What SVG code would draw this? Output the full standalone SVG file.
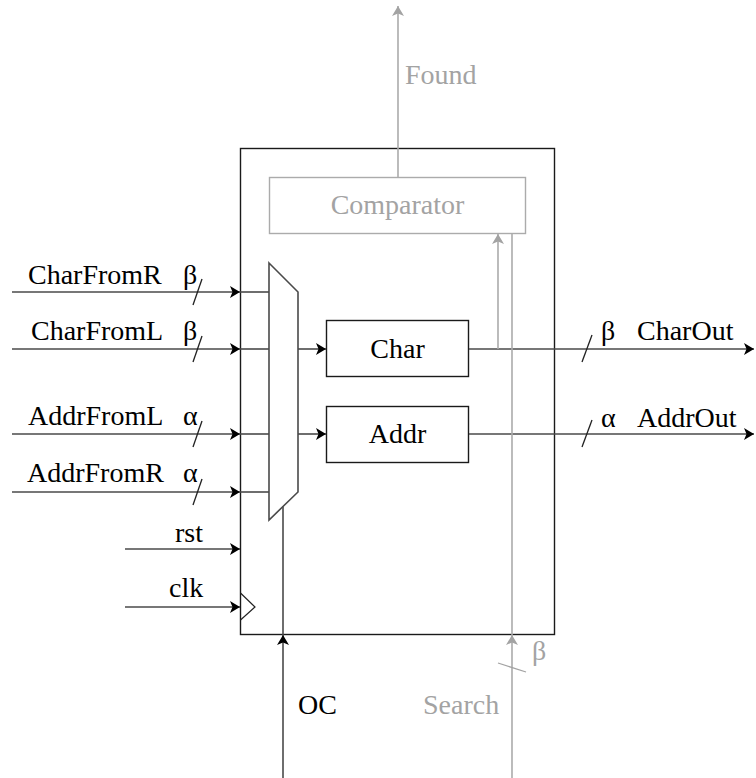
<svg xmlns="http://www.w3.org/2000/svg" width="756" height="778" viewBox="0 0 756 778">
  <style>
    text { font-family: "Liberation Serif", "Times New Roman", serif; font-size: 28px; fill: #000; }
    .dim { fill: #a3a3a3; }
    .mid { text-anchor: middle; }
    .wire { stroke: #4a4a4a; stroke-width: 1.6; fill: none; }
    .gwire { stroke: #ababab; stroke-width: 1.6; fill: none; }
    .box { stroke: #1a1a1a; stroke-width: 1.4; fill: #fff; }
    .gbox { stroke: #ababab; stroke-width: 1.4; fill: #fff; }
    .tick { stroke: #222; stroke-width: 1.3; }
    .gtick { stroke: #a3a3a3; stroke-width: 1.3; }
  </style>
  <defs>
    <marker id="arrow" viewBox="0 0 11 12" refX="10" refY="6" markerWidth="11" markerHeight="12" markerUnits="userSpaceOnUse" orient="auto">
      <path d="M0,0 L10,6 L0,12 L2.5,6 Z" fill="#000"/>
    </marker>
    <marker id="garrow" viewBox="0 0 11 12" refX="10" refY="6" markerWidth="11" markerHeight="12" markerUnits="userSpaceOnUse" orient="auto">
      <path d="M0,0 L10,6 L0,12 L2.5,6 Z" fill="#a3a3a3"/>
    </marker>
  </defs>

  <!-- outer register block -->
  <g id="block">
    <rect class="box" x="240.5" y="148.5" width="314" height="486"/>
    <!-- clock input -->
    <path d="M240.5,593 L255,607 L240.5,620" fill="none" stroke="#222" stroke-width="1.2"/>
  </g>

  <g id="comparator">
    <rect class="gbox" x="269.5" y="177.5" width="256" height="56"/>
    <text class="dim mid" x="397.5" y="214">Comparator</text>
  </g>

  <g id="mux">
    <path d="M269,263 L298,292 L298,492 L269,520 Z" fill="#fff" stroke="#4a4a4a" stroke-width="1.6"/>
  </g>

  <g id="char">
    <rect class="box" x="326.5" y="320.5" width="142" height="56"/>
    <text class="mid" x="397.5" y="358">Char</text>
  </g>

  <g id="addr">
    <rect class="box" x="326.5" y="406.5" width="142" height="56"/>
    <text class="mid" x="397.5" y="443">Addr</text>
  </g>

  <g id="connectors">
    <!-- inputs into the mux, arrowheads on the block edge -->
    <line class="wire" x1="12" y1="292" x2="240" y2="292" marker-end="url(#arrow)"/>
    <line class="wire" x1="240" y1="292" x2="269" y2="292"/>
    <line class="wire" x1="12" y1="349" x2="240" y2="349" marker-end="url(#arrow)"/>
    <line class="wire" x1="240" y1="349" x2="269" y2="349"/>
    <line class="wire" x1="12" y1="434" x2="240" y2="434" marker-end="url(#arrow)"/>
    <line class="wire" x1="240" y1="434" x2="269" y2="434"/>
    <line class="wire" x1="12" y1="492" x2="240" y2="492" marker-end="url(#arrow)"/>
    <line class="wire" x1="240" y1="492" x2="269" y2="492"/>

    <!-- bus width ticks on inputs -->
    <line class="tick" x1="193" y1="305" x2="202" y2="279"/>
    <line class="tick" x1="193" y1="362" x2="202" y2="336"/>
    <line class="tick" x1="193" y1="447" x2="202" y2="421"/>
    <line class="tick" x1="193" y1="505" x2="202" y2="479"/>

    <!-- rst / clk -->
    <line class="wire" x1="125" y1="549" x2="240" y2="549" marker-end="url(#arrow)"/>
    <line class="wire" x1="125" y1="607" x2="240" y2="607" marker-end="url(#arrow)"/>

    <!-- mux to registers -->
    <line class="wire" x1="298" y1="349" x2="326" y2="349" marker-end="url(#arrow)"/>
    <line class="wire" x1="298" y1="434" x2="326" y2="434" marker-end="url(#arrow)"/>

    <!-- register outputs -->
    <line class="wire" x1="469" y1="349" x2="754" y2="349" marker-end="url(#arrow)"/>
    <line class="wire" x1="469" y1="434" x2="754" y2="434" marker-end="url(#arrow)"/>
    <line class="tick" x1="582" y1="362" x2="592" y2="335"/>
    <line class="tick" x1="582" y1="447" x2="592" y2="420"/>

    <!-- OC select into mux -->
    <line class="wire" x1="283" y1="778" x2="283" y2="635" marker-end="url(#arrow)"/>
    <line class="wire" x1="283" y1="635" x2="283" y2="506.5"/>

    <!-- comparator path -->
    <line class="gwire" x1="498" y1="349" x2="498" y2="234" marker-end="url(#garrow)"/>
    <line class="gwire" x1="512" y1="778" x2="512" y2="635" marker-end="url(#garrow)"/>
    <line class="gwire" x1="512" y1="635" x2="512" y2="234"/>
    <line class="gtick" x1="498" y1="663" x2="526" y2="672"/>
    <line class="gwire" x1="398" y1="177" x2="398" y2="6" marker-end="url(#garrow)"/>
  </g>

  <g id="labels">
    <text x="28" y="284">CharFromR</text>
    <text x="183" y="284">β</text>
    <text x="31" y="340">CharFromL</text>
    <text x="183" y="340">β</text>
    <text x="28" y="425">AddrFromL</text>
    <text x="183" y="425">α</text>
    <text x="27" y="482">AddrFromR</text>
    <text x="183" y="482">α</text>
    <text x="175" y="542">rst</text>
    <text x="169" y="597">clk</text>
    <text x="601" y="340">β</text>
    <text x="637" y="340">CharOut</text>
    <text x="601" y="427">α</text>
    <text x="637" y="427">AddrOut</text>
    <text x="298" y="714">OC</text>
    <text class="dim" x="423" y="714">Search</text>
    <text class="dim" x="532" y="660">β</text>
    <text class="dim" x="405" y="84">Found</text>
  </g>
</svg>
